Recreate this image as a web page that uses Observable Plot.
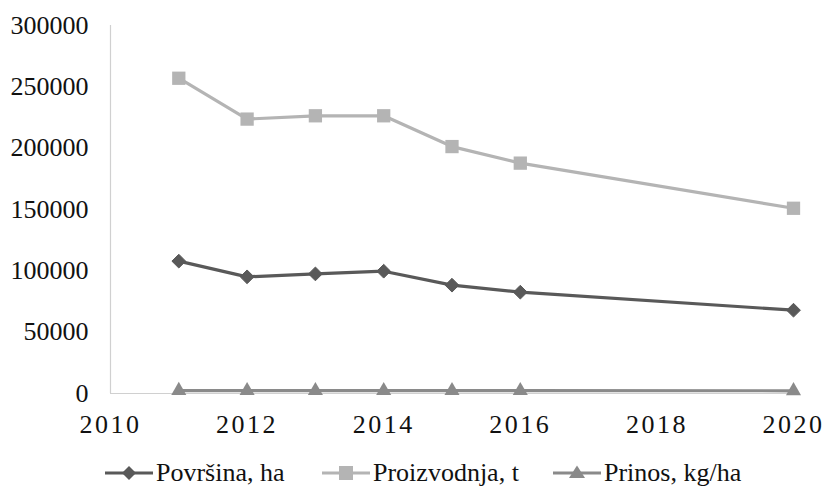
<!DOCTYPE html>
<html>
<head>
<meta charset="utf-8">
<script src="https://cdn.jsdelivr.net/npm/d3@7"></script>
<script src="https://cdn.jsdelivr.net/npm/@observablehq/plot@0.6"></script>
</head>
<body style="margin:0;background:#fff;font-family:'Liberation Serif'">
<div id="chart"></div>
<div id="legend"></div>
<script>
const years = [2011, 2012, 2013, 2014, 2015, 2016, 2020];
const povrsina = [107900, 95100, 97500, 99700, 88300, 82600, 67900];
const proizvodnja = [257000, 223700, 226400, 226400, 201300, 187800, 151000];
const prinos = [2380, 2350, 2320, 2270, 2280, 2270, 2220];
const seriesNames = ["Površina, ha", "Proizvodnja, t", "Prinos, kg/ha"];
const seriesColors = ["#595959", "#b4b4b4", "#8a8a8a"];
const seriesSymbols = ["diamond2", "square", "triangle"];
const yTicks = [0, 50000, 100000, 150000, 200000, 250000, 300000];
const xTicks = [2010, 2012, 2014, 2016, 2018, 2020];

const valuesBySeries = [povrsina, proizvodnja, prinos];
const data = [];
seriesNames.forEach((s, i) => years.forEach((y, j) => data.push({series: s, year: y, value: valuesBySeries[i][j]})));

const FONT = "Liberation Serif";
const dotR = [6.2, 7.5, 5.6];
const chart = Plot.plot({
  width: 826,
  height: 440,
  marginLeft: 110,
  marginRight: 33,
  marginTop: 25,
  marginBottom: 47,
  x: {domain: [2010, 2020]},
  y: {domain: [0, 300000]},
  color: {domain: seriesNames, range: seriesColors},
  symbol: {domain: seriesNames, range: seriesSymbols},
  marks: [
    Plot.ruleX([2010], {y1: 0, y2: 300000, stroke: "#d0d0d0", strokeWidth: 1.2}),
    Plot.ruleY([0], {x1: 2010, x2: 2020, stroke: "#d0d0d0", strokeWidth: 1.2}),
    Plot.axisY({ticks: yTicks, tickSize: 0, tickPadding: 22, tickFormat: d => String(d), label: null, fontSize: 26, fill: "#111"}),
    Plot.axisX({ticks: xTicks, tickSize: 0, tickPadding: 21, tickFormat: d => String(d), label: null, fontSize: 26, fill: "#111"}),
    Plot.line(data, {x: "year", y: "value", z: "series", stroke: "series", strokeWidth: 3.2}),
    ...seriesNames.map((s, i) => Plot.dot(data.filter(d => d.series === s), {
      x: "year", y: "value", symbol: "series", fill: "series",
      stroke: i === 0 ? "series" : "none", strokeWidth: 1, r: dotR[i]
    }))
  ]
});
chart.setAttribute("font-family", FONT);
chart.style.fontFamily = "'Liberation Serif'";
chart.querySelectorAll("text").forEach(t => t.setAttribute("font-family", FONT));
chart.querySelectorAll('[aria-label="x-axis tick label"] text').forEach(t => t.setAttribute("letter-spacing", "2.5"));
document.getElementById("chart").append(chart);

const shapes = {
  diamond2: '<path d="M24,5 L31,12 L24,19 L17,12 Z"/>',
  square: '<rect x="17" y="5" width="14" height="14"/>',
  triangle: '<path d="M24,4.5 L32,17 L16,17 Z"/>'
};
const legendLeft = [105, 322, 553];
const leg = document.getElementById("legend");
seriesNames.forEach((s, i) => {
  const d = document.createElement("div");
  d.setAttribute("style", `position:absolute;left:${legendLeft[i]}px;top:458px;height:30px;display:flex;align-items:center;white-space:nowrap;font-family:'Liberation Serif';font-size:26px;color:#111`);
  d.innerHTML = `<svg width="48" height="24" fill="${seriesColors[i]}" style="margin-right:3px"><line x1="0" x2="48" y1="12" y2="12" stroke="${seriesColors[i]}" stroke-width="3.2"/>${shapes[seriesSymbols[i]]}</svg><span>${s}</span>`;
  leg.append(d);
});
</script>
</body>
</html>
